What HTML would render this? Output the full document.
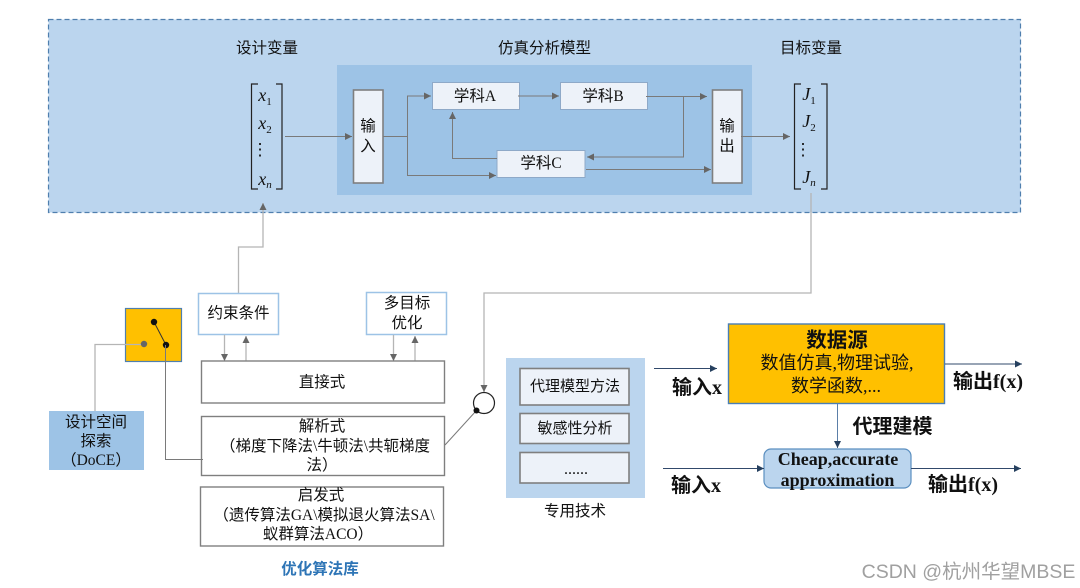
<!DOCTYPE html>
<html><head><meta charset="utf-8"><style>
html,body{margin:0;padding:0;background:#fff;width:1080px;height:588px;overflow:hidden}
svg{display:block}
text{font-family:"Liberation Serif","Noto Sans CJK SC",serif;fill:#111;text-anchor:middle}
.b{font-weight:bold;fill:#111}
.i{font-style:italic;font-size:18px}
.s{font-size:11px}
.l{fill:none;stroke:#7a7a7a;stroke-width:1}
.lg{fill:none;stroke:#b5b5b5;stroke-width:1.3}
.n{fill:none;stroke:#31496b;stroke-width:1}
.box{fill:#fff;stroke:#7f7f7f;stroke-width:1.4}
.t{fill:#edf2f9;stroke:#8ea9c8;stroke-width:1}
.g{fill:#edf2f9;stroke:#7f7f7f;stroke-width:1.6}
.br{fill:none;stroke:#222;stroke-width:1.2}
</style></head><body>
<svg width="1080" height="588" viewBox="0 0 1080 588" xmlns="http://www.w3.org/2000/svg">
<defs>
<marker id="a" markerWidth="8" markerHeight="8" refX="7" refY="3.5" orient="auto" markerUnits="userSpaceOnUse"><path d="M0 0L7 3.5L0 7z" fill="#666"/></marker>
<marker id="d" markerWidth="8" markerHeight="8" refX="7" refY="3.5" orient="auto" markerUnits="userSpaceOnUse"><path d="M0 0L7 3.5L0 7z" fill="#26405f"/></marker>
</defs>
<rect x="48.500" y="19.500" width="972" height="193" fill="#bbd5ee" stroke="#4f7fae" stroke-width="1.2" stroke-dasharray="5 3"/>
<rect x="337" y="65" width="415" height="130" fill="#9dc3e6"/>
<g font-size="15.500">
<text x="267" y="53">设计变量</text>
<text x="544.500" y="53">仿真分析模型</text>
<text x="811" y="53">目标变量</text>
</g>
<path class="br" d="M258 84H251.500V189H258M276 84H282V189H276"/>
<text class="i" x="265" y="101">x<tspan class="s" dy="4" font-style="normal">1</tspan></text>
<text class="i" x="265" y="129">x<tspan class="s" dy="4" font-style="normal">2</tspan></text>
<text x="260" y="155" font-size="17">⋮</text>
<text class="i" x="265" y="185">x<tspan class="s" dy="3">n</tspan></text>
<path class="br" d="M801 84H794.500V189H801M821 84H827V189H821"/>
<text class="i" x="809" y="100">J<tspan class="s" dy="4" font-style="normal">1</tspan></text>
<text class="i" x="809" y="127">J<tspan class="s" dy="4" font-style="normal">2</tspan></text>
<text x="803" y="155" font-size="17">⋮</text>
<text class="i" x="809" y="183">J<tspan class="s" dy="3">n</tspan></text>
<rect class="g" x="353.500" y="90" width="29.500" height="93"/>
<rect class="g" x="712.500" y="90" width="29.500" height="93"/>
<rect class="t" x="432.500" y="82.500" width="87" height="27"/>
<rect class="t" x="560.500" y="82.500" width="87" height="27"/>
<rect class="t" x="497" y="150.500" width="88" height="27"/>
<g font-size="15.500">
<text x="368" y="131">输</text><text x="368" y="151">入</text>
<text x="727" y="131">输</text><text x="727" y="151">出</text>
<text x="475" y="101">学科A</text>
<text x="603" y="101">学科B</text>
<text x="541" y="168">学科C</text>
</g>
<path class="l" marker-end="url(#a)" d="M285 136.500H352"/>
<path class="l" d="M383 136.500H408"/>
<path class="l" marker-end="url(#a)" d="M407.500 136.500V96H431"/>
<path class="l" marker-end="url(#a)" d="M407.500 136.500V175.500H496"/>
<path class="l" marker-end="url(#a)" d="M518 96H559"/>
<path class="l" marker-end="url(#a)" d="M646 96.500H707"/>
<path class="l" d="M683.500 96.500V157H590"/>
<path class="l" marker-end="url(#a)" d="M600 157H587"/>
<path class="l" marker-end="url(#a)" d="M586 169.500H711"/>
<path class="l" marker-end="url(#a)" d="M497 158.500H452.500V112"/>
<path class="l" marker-end="url(#a)" d="M741 136.500H790"/>
<path class="lg" marker-end="url(#a)" d="M238.500 293V247H263V203"/>
<path class="lg" marker-end="url(#a)" d="M811 193V293H484V392"/>
<rect x="198.500" y="293.500" width="80" height="41" fill="#fff" stroke="#9dc3e6" stroke-width="1.500"/>
<rect x="366.500" y="292.500" width="80" height="42" fill="#fff" stroke="#9dc3e6" stroke-width="1.500"/>
<g font-size="15.500"><text x="238.500" y="318">约束条件</text><text x="407" y="308">多目标</text><text x="407" y="328">优化</text></g>
<path class="lg" marker-end="url(#a)" d="M224.500 335V361"/>
<path class="lg" marker-end="url(#a)" d="M246 361V336"/>
<path class="lg" marker-end="url(#a)" d="M393.500 335V361"/>
<path class="lg" marker-end="url(#a)" d="M415 361V336"/>
<rect class="box" x="201.500" y="361" width="243" height="42"/>
<rect class="box" x="201.500" y="416.500" width="243" height="59"/>
<rect class="box" x="200.500" y="487" width="243" height="59"/>
<g font-size="15.500">
<text x="322" y="387">直接式</text>
<text x="322" y="431">解析式</text>
<text x="325" y="451">（梯度下降法\牛顿法\共轭梯度</text>
<text x="322" y="470">法）</text>
<text x="321" y="500">启发式</text>
<text x="324" y="520">（遗传算法GA\模拟退火算法SA\</text>
<text x="318" y="539">蚁群算法ACO）</text>
</g>
<text x="320" y="574" font-size="15.500" font-weight="bold" style="fill:#2e75b6">优化算法库</text>
<path class="l" d="M445 445L476 411"/>
<circle cx="484" cy="403" r="10.500" fill="#fff" stroke="#222" stroke-width="1.200"/>
<circle cx="476.500" cy="410.500" r="3" fill="#111"/>
<rect x="125.500" y="308.500" width="56" height="53" fill="#ffc000" stroke="#4f7fae" stroke-width="1.200"/>
<path class="lg" d="M95 411V344.500H144"/>
<path d="M154 322L166 345" stroke="#333" fill="none"/>
<circle cx="154" cy="322" r="3.200" fill="#111"/><circle cx="166" cy="345" r="3.200" fill="#111"/><circle cx="144" cy="344" r="3.200" fill="#666"/>
<path class="l" d="M165.500 345V459.500H203"/>
<rect x="49" y="411" width="95" height="59" fill="#9dc3e6"/>
<g font-size="15.500"><text x="96" y="427">设计空间</text><text x="96" y="446">探索</text><text x="96" y="465">（DoCE）</text></g>
<rect x="506" y="358" width="139" height="140" fill="#bbd5ee"/>
<rect class="g" x="520" y="368.500" width="109" height="36.500"/>
<rect class="g" x="520" y="413.500" width="109" height="30"/>
<rect class="g" x="520" y="452.500" width="109" height="30.500"/>
<g font-size="15"><text x="575" y="391">代理模型方法</text><text x="575" y="433">敏感性分析</text><text x="576" y="474" font-size="16">......</text><text x="575" y="516" font-size="15.500">专用技术</text></g>
<rect x="728.500" y="324" width="216" height="79.500" fill="#ffc000" stroke="#4a7eb5" stroke-width="1.400"/>
<text class="b" x="837" y="347" font-size="20.500">数据源</text>
<g font-size="18"><text x="837" y="369">数值仿真,物理试验,</text><text x="836" y="392">数学函数,...</text></g>
<rect x="764" y="449" width="147" height="39" rx="7" fill="#bbd5ee" stroke="#5b8fc0" stroke-width="1.200"/>
<text class="b" x="838" y="465" font-size="18">Cheap,accurate</text><text class="b" x="837.500" y="486" font-size="18">approximation</text>
<path class="n" marker-end="url(#d)" d="M654 368.500H717"/>
<path class="n" marker-end="url(#d)" d="M945 364H1022"/>
<path class="n" marker-end="url(#d)" d="M663 468.500H764"/>
<path class="n" marker-end="url(#d)" d="M911 468.500H1021"/>
<path class="l" marker-end="url(#d)" style="stroke:#5b7fa8" d="M837.500 404V448"/>
<g font-size="20" font-weight="bold">
<text class="b" x="697" y="394">输入x</text>
<text class="b" x="988" y="388">输出f(x)</text>
<text class="b" x="892.500" y="433">代理建模</text>
<text class="b" x="696" y="492">输入x</text>
<text class="b" x="963" y="491">输出f(x)</text>
</g>
<text x="968.500" y="578" font-size="19.500" style="fill:#a0a0a0;font-family:'Liberation Sans','Noto Sans CJK SC',sans-serif">CSDN @杭州华望MBSE</text>
</svg>
</body></html>
